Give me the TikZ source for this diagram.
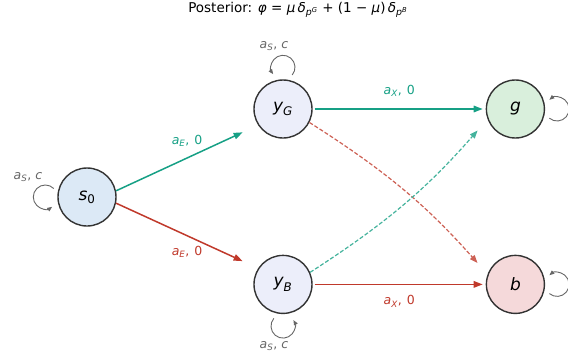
\documentclass[tikz,border=0pt]{standalone}
\usepackage{amsmath}
\usepackage{fontspec}
\setmainfont{DejaVu Sans}
\usetikzlibrary{arrows.meta, positioning}
\definecolor{tealline}{HTML}{16A085}
\definecolor{redline}{HTML}{C0392B}
\definecolor{loopgray}{HTML}{666666}
\definecolor{fillstart}{HTML}{DCE9F6}
\definecolor{fillmid}{HTML}{ECEEFA}
\definecolor{fillgood}{HTML}{D9EFDC}
\definecolor{fillbad}{HTML}{F5D9DA}
\newcommand{\mi}[1]{\textit{#1}}

\begin{document}
\begin{tikzpicture}[
    x=1pt, y=1pt,
    state/.style={
        circle,
        minimum size=58pt,
        inner sep=0pt,
        draw=black!80,
        line width=1.4pt,
        font=\fontsize{17}{17}\selectfont
    },
    arrow/.style={
        line width=1.5pt,
        -{Triangle[length=9pt,width=6.5pt]}
    },
    dasharrow/.style={
        line width=1.2pt,
        dash pattern=on 4pt off 2pt,
        -{Triangle[length=8pt,width=6pt]}
    },
    selfloop/.style={
        line width=0.9pt,
        draw=loopgray,
        -{Triangle[length=5pt,width=4pt]}
    },
    elabel/.style={
        font=\fontsize{12.5}{13}\selectfont,
        inner sep=1pt
    },
    looplabel/.style={
        font=\fontsize{12.5}{13}\selectfont,
        text=loopgray,
        inner sep=1pt
    }
]
\useasboundingbox (0,0) rectangle (568,360);
% TITLE
\node (title) at (298,350) {\fontsize{13.5}{14}\selectfont Posterior: \mi{φ} = \mi{μ}\,\mi{δ}$_{\mi{p}^{\mi{G}}}$ + (1 − \mi{μ})\,\mi{δ}$_{\mi{p}^{\mi{B}}}$};
% STATES
\node (s0) [state, fill=fillstart] at (87,163) {$\mi{s}_{\text{0}}$};
\node (yG) [state, fill=fillmid] at (283,251) {$\mi{y}_{\mi{G}}$};
\node (yB) [state, fill=fillmid, below=116pt of yG] {$\mi{y}_{\mi{B}}$};
\node (g) [state, fill=fillgood, right=173pt of yG] {\mi{g}};
\node (b) [state, fill=fillbad, below=116pt of g] {\mi{b}};
% EXPERIMENT ARROWS
\draw [arrow, tealline, shorten >=17pt] (s0.12) -- node[elabel, text=tealline, yshift=17pt] (lEG) {$\mi{a}_{\mi{E}}$,\hspace{5pt}0} (yG.213);
\draw [arrow, redline, shorten >=17pt] (s0.-12) -- node[elabel, text=redline, yshift=-16pt] (lEB) {$\mi{a}_{\mi{E}}$,\hspace{5pt}0} (yB.147);
% EXIT ARROWS
\draw [arrow, tealline, shorten <=2pt, shorten >=3pt] (yG.east) -- node[elabel, text=tealline, yshift=18pt] (lXG) {$\mi{a}_{\mi{X}}$,\hspace{5pt}0} (g.west);
\draw [arrow, redline, shorten <=2pt, shorten >=3pt] (yB.east) -- node[elabel, text=redline, yshift=-17pt] (lXB) {$\mi{a}_{\mi{X}}$,\hspace{5pt}0} (b.west);
% CROSSING (DASHED)
\draw [dasharrow, redline!80, shorten >=15pt] (yG.-27) to[bend left=8] (b.160);
\draw [dasharrow, tealline!80, shorten >=15pt] (yB.24) to[bend right=8] (g.200);
% SELF LOOPS
\draw [selfloop] ([xshift=-12pt]s0.west) ++(45:12pt) arc[start angle=45, end angle=305, radius=12pt];
\draw [selfloop] ([yshift=12pt]yG.north) ++(-40:12pt) arc[start angle=-40, end angle=215, radius=12pt];
\draw [selfloop] ([yshift=-12pt]yB.south) ++(140:12pt) arc[start angle=140, end angle=390, radius=12pt];
\draw [selfloop] ([xshift=12pt]g.east) ++(230:12pt) arc[start angle=230, end angle=490, radius=12pt];
\draw [selfloop] ([xshift=12pt]b.east) ++(230:12pt) arc[start angle=230, end angle=490, radius=12pt];
% LOOP LABELS
\node (lS0) [looplabel] at (28,183) {$\mi{a}_{\mi{S}}$,\hspace{4pt}\mi{c}};
\node (lSG) [looplabel] at (274,314) {$\mi{a}_{\mi{S}}$,\hspace{4pt}\mi{c}};
\node (lSB) [looplabel] at (274,14) {$\mi{a}_{\mi{S}}$,\hspace{4pt}\mi{c}};
\end{tikzpicture}
\end{document}
